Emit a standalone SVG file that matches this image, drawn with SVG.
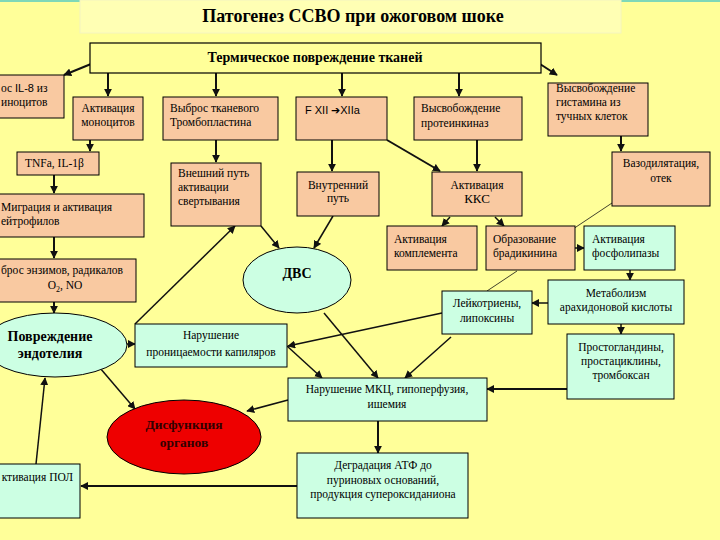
<svg xmlns="http://www.w3.org/2000/svg" width="720" height="540" viewBox="0 0 720 540">
<defs>
<marker id="ah" viewBox="0 0 10 10" refX="9" refY="5" markerWidth="8" markerHeight="8" markerUnits="userSpaceOnUse" orient="auto">
<path d="M0,0 L10,5 L0,10 z" fill="#111"/>
</marker>
<style>
.pe{fill:#F9C9A1;stroke:#000;stroke-width:1}
.mi{fill:#CCFFE3;stroke:#000;stroke-width:1}
.t{font-family:"Liberation Serif","Times New Roman",serif;font-size:11.5px;fill:#000}
.s{font-family:"Liberation Sans",Arial,sans-serif}
.c{text-anchor:middle}
.b{font-weight:bold}
.a{stroke:#111;stroke-width:2;fill:none;marker-end:url(#ah)}
.a1{stroke:#111;stroke-width:1.5;fill:none;marker-end:url(#ah)}
.thin{stroke:#111;stroke-width:0.8;fill:none}
</style>
</defs>
<rect x="0" y="0" width="720" height="540" fill="#FFFF99"/>
<rect x="0" y="0" width="80" height="2" fill="#7FD8B8"/>
<rect x="621" y="0" width="99" height="2" fill="#7FD8B8"/>
<g id="title">
<rect x="80" y="0" width="541" height="33" fill="#FFFFB4" stroke="#F4F4C0" stroke-width="1"/>
<text class="t b c" x="353" y="22" style="font-size:18px">Патогенез ССВО при ожоговом шоке</text>
</g>
<g id="connectors">
<line class="a" x1="91" y1="64" x2="64" y2="75"/>
<line class="a" x1="108" y1="73" x2="108" y2="96"/>
<line class="a" x1="216" y1="73" x2="216" y2="96"/>
<line class="a" x1="342" y1="73" x2="342" y2="96"/>
<line class="a" x1="459" y1="73" x2="459" y2="96"/>
<line class="a" x1="540" y1="64" x2="557" y2="75"/>
<line class="a" x1="90" y1="140" x2="90" y2="151"/>
<line class="a" x1="54" y1="175" x2="54" y2="193"/>
<line class="a" x1="54" y1="237" x2="54" y2="258"/>
<line class="a" x1="54" y1="302" x2="54" y2="313"/>
<line class="a" x1="216" y1="140" x2="216" y2="162"/>
<line class="a" x1="332" y1="140" x2="332" y2="171"/>
<line class="a" x1="387" y1="140" x2="440" y2="171"/>
<line class="a" x1="477" y1="140" x2="477" y2="171"/>
<line class="a" x1="621" y1="136" x2="621" y2="151"/>
<line class="a1" x1="261" y1="226" x2="279" y2="248"/>
<line class="a1" x1="333" y1="216" x2="314" y2="248"/>
<line class="a1" x1="135" y1="324" x2="235" y2="226"/>
<line class="a1" x1="450" y1="217" x2="442" y2="226"/>
<line class="a1" x1="495" y1="217" x2="504" y2="226"/>
<line class="thin" x1="612" y1="203" x2="570" y2="231"/>
<line class="a1" x1="575" y1="248" x2="584" y2="248"/>
<line class="a1" x1="630" y1="270" x2="630" y2="280"/>
<line class="a1" x1="548" y1="303" x2="532" y2="303"/>
<line class="thin" x1="517" y1="271" x2="487" y2="291"/>
<line class="a1" x1="442" y1="313" x2="288" y2="346"/>
<line class="a1" x1="621" y1="324" x2="621" y2="334"/>
<line class="a" x1="567" y1="389" x2="487" y2="389"/>
<line class="a1" x1="451" y1="337" x2="405" y2="378"/>
<line class="a1" x1="287" y1="346" x2="322" y2="378"/>
<line class="a1" x1="324" y1="313" x2="378" y2="378"/>
<line class="a1" x1="127" y1="344" x2="135" y2="344"/>
<line class="a1" x1="288" y1="400" x2="247" y2="411"/>
<line class="a1" x1="100" y1="368" x2="135" y2="409"/>
<line class="a" x1="378" y1="421" x2="378" y2="453"/>
<line class="a" x1="297" y1="486" x2="81" y2="486"/>
<line class="a1" x1="36" y1="464" x2="45" y2="378"/>
</g>
<g id="thermal">
<rect x="90" y="43" width="451" height="30" fill="#FFFF99" stroke="#000" stroke-width="1.2"/>
<text class="t b c" x="315" y="62" style="font-size:14px">Термическое повреждение тканей</text>
</g>
<g id="il8">
<rect class="pe" x="-10" y="75" width="74" height="43"/>
<text class="t" x="1" y="92">ос <tspan class="s" style="font-size:11px">IL-8</tspan>  из</text>
<text class="t" x="1" y="106">иноцитов</text>
</g>
<g id="monocytes">
<rect class="pe" x="73" y="97" width="70" height="43"/>
<text class="t c" x="108" y="112">Активация</text>
<text class="t c" x="108" y="126">моноцитов</text>
</g>
<g id="thrombo">
<rect class="pe" x="163" y="97" width="115" height="43"/>
<text class="t" x="170" y="112">Выброс тканевого</text>
<text class="t" x="170" y="126">Тромбопластина</text>
</g>
<g id="fxii">
<rect class="pe" x="296" y="97" width="91" height="43"/>
<text class="t s" x="305" y="114" style="font-size:11px">F XII ➔XIIa</text>
</g>
<g id="proteinkinase">
<rect class="pe" x="414" y="97" width="108" height="43"/>
<text class="t" x="421" y="112">Высвобождение</text>
<text class="t" x="421" y="127">протеинкиназ</text>
</g>
<g id="histamine">
<rect class="pe" x="548" y="83" width="100" height="53"/>
<text class="t" x="556" y="92">Высвобождение</text>
<text class="t" x="556" y="106">гистамина из</text>
<text class="t" x="556" y="120">тучных клеток</text>
</g>
<g id="tnf">
<rect class="pe" x="17" y="152" width="82" height="23"/>
<text class="t" x="25" y="167">TNFa, IL-1β</text>
</g>
<g id="extrinsic">
<rect class="pe" x="171" y="163" width="90" height="63"/>
<text class="t" x="178" y="177">Внешний путь</text>
<text class="t" x="178" y="191">активации</text>
<text class="t" x="178" y="205">свертывания</text>
</g>
<g id="intrinsic">
<rect class="pe" x="297" y="172" width="82" height="44"/>
<text class="t c" x="338" y="189">Внутренний</text>
<text class="t c" x="338" y="202">путь</text>
</g>
<g id="kks">
<rect class="pe" x="432" y="172" width="90" height="44"/>
<text class="t c" x="477" y="189">Активация</text>
<text class="t c" x="477" y="203" style="font-size:13px">ККС</text>
</g>
<g id="vasodilation">
<rect class="pe" x="612" y="152" width="98" height="54"/>
<text class="t c" x="661" y="167">Вазодилятация,</text>
<text class="t c" x="661" y="182">отек</text>
</g>
<g id="migration">
<rect class="pe" x="-10" y="194" width="154" height="43"/>
<text class="t" x="1" y="211">Миграция и активация</text>
<text class="t" x="1" y="225">ейтрофилов</text>
</g>
<g id="complement">
<rect class="pe" x="387" y="226" width="90" height="44"/>
<text class="t" x="394" y="243">Активация</text>
<text class="t" x="394" y="257">комплемента</text>
</g>
<g id="bradykinin">
<rect class="pe" x="486" y="226" width="89" height="44"/>
<text class="t" x="493" y="243">Образование</text>
<text class="t" x="493" y="257">брадикинина</text>
</g>
<g id="phospholipase">
<rect class="mi" x="584" y="226" width="91" height="44"/>
<text class="t" x="592" y="243">Активация</text>
<text class="t" x="592" y="257">фосфолипазы</text>
</g>
<g id="dvs">
<ellipse cx="297" cy="280" rx="54" ry="33" fill="#CCFFE3" stroke="#000" stroke-width="1"/>
<text class="t b c" x="297" y="278" style="font-size:14px">ДВС</text>
</g>
<g id="enzymes">
<rect class="pe" x="-10" y="259" width="146" height="43"/>
<text class="t" x="1" y="274">брос энзимов, радикалов</text>
<text class="t c" x="65" y="289">O<tspan style="font-size:8px" dy="3">2</tspan><tspan dy="-3">, NO</tspan></text>
</g>
<g id="arachidonic">
<rect class="mi" x="548" y="280" width="136" height="44"/>
<text class="t c" x="616" y="297">Метаболизм</text>
<text class="t c" x="616" y="311">арахидоновой кислоты</text>
</g>
<g id="leukotrienes">
<rect class="mi" x="442" y="291" width="90" height="43"/>
<text class="t c" x="487" y="307">Лейкотриены,</text>
<text class="t c" x="487" y="322">липоксины</text>
</g>
<g id="endothelium">
<ellipse cx="55" cy="345" rx="72" ry="32" fill="#CCFFE3" stroke="#000" stroke-width="1"/>
<text class="t b c" x="50" y="341" style="font-size:14px">Повреждение</text>
<text class="t b c" x="50" y="358" style="font-size:14px">эндотелия</text>
</g>
<g id="permeability">
<rect class="mi" x="135" y="324" width="152" height="43"/>
<text class="t c" x="211" y="339">Нарушение</text>
<text class="t c" x="211" y="356">проницаемости капиляров</text>
</g>
<g id="prostaglandins">
<rect class="mi" x="567" y="334" width="107" height="65"/>
<text class="t c" x="621" y="351">Простогландины,</text>
<text class="t c" x="621" y="365">простациклины,</text>
<text class="t c" x="621" y="379">тромбоксан</text>
</g>
<g id="mkc">
<rect class="mi" x="288" y="378" width="199" height="43"/>
<text class="t c" x="387" y="393">Нарушение МКЦ, гипоперфузия,</text>
<text class="t c" x="387" y="408">ишемия</text>
</g>
<g id="dysfunction">
<ellipse cx="184" cy="437" rx="77" ry="37" fill="#EE0000" stroke="#000" stroke-width="1"/>
<text class="t b c" x="184" y="429" style="font-size:13.5px;fill:#300">Дисфункция</text>
<text class="t b c" x="184" y="447" style="font-size:13.5px;fill:#300">органов</text>
</g>
<g id="pol">
<rect class="mi" x="-10" y="464" width="90" height="54"/>
<text class="t" x="73" y="481" text-anchor="end">ктивация ПОЛ</text>
</g>
<g id="atp">
<rect class="mi" x="297" y="453" width="171" height="65"/>
<text class="t c" x="383" y="469">Деградация АТФ до</text>
<text class="t c" x="383" y="484">пуриновых оснований,</text>
<text class="t c" x="383" y="498">продукция супероксиданиона</text>
</g>
</svg>
